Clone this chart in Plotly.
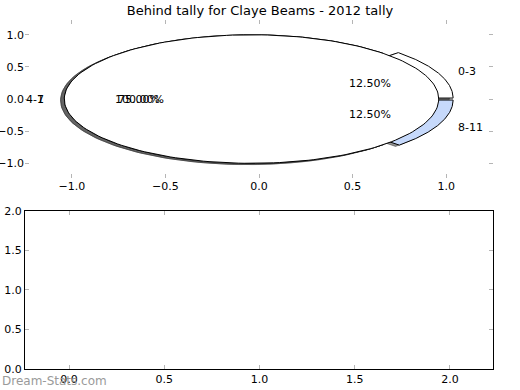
import numpy as np
import plotly.graph_objects as go

# data
title = "Behind tally for Claye Beams - 2012 tally"
labels1 = ["0-3", "4-7", "8-11"]
values1 = [1, 6, 1]
colors1 = ["#ffffff", "#ffffff", "#c6d9fb"]
labels2 = ["1"]
values2 = [1]
colors2 = ["#ffffff"]
explode = 0.04
tick_vals_top = [-1.0, -0.5, 0.0, 0.5, 1.0]
tick_vals_bot_x = [0.0, 0.5, 1.0, 1.5, 2.0]
tick_vals_bot_y = [0.0, 0.5, 1.0, 1.5, 2.0]

def fmt(v):
    s = f"{v:.1f}"
    return s.replace("-", "\u2212")

fig = go.Figure()

def wedge_xy(t1, t2, cx, cy, full):
    th = np.radians(np.linspace(t1, t2, 200))
    x = cx + np.cos(th)
    y = cy + np.sin(th)
    if not full:
        x = np.concatenate([[cx], x, [cx]])
        y = np.concatenate([[cy], y, [cy]])
    return x, y

def pie_geoms(values):
    total = float(sum(values))
    out = []
    t = 0.0
    for v in values:
        span = 360.0 * v / total
        t1, t2 = t, t + span
        mid = np.radians((t1 + t2) / 2)
        cx, cy = explode * np.cos(mid), explode * np.sin(mid)
        out.append((t1, t2, cx, cy, mid, span >= 359.999, 100.0 * v / total))
        t = t2
    return out

annots = []
shadow_traces = []
wedge_traces = []
for values, labels, colors in [(values1, labels1, colors1), (values2, labels2, colors2)]:
    for (t1, t2, cx, cy, mid, full, pct), lab, col in zip(pie_geoms(values), labels, colors):
        x, y = wedge_xy(t1, t2, cx, cy, full)
        shadow_traces.append(go.Scatter(x=x - 0.02, y=y - 0.02, mode="lines", fill="toself",
                                        fillcolor="rgba(60,60,60,0.55)",
                                        line=dict(color="rgba(60,60,60,0.55)", width=1),
                                        hoverinfo="skip", showlegend=False, xaxis="x", yaxis="y"))
        wedge_traces.append(go.Scatter(x=x, y=y, mode="lines", fill="toself", fillcolor=col,
                                       line=dict(color="black", width=1),
                                       hoverinfo="skip", showlegend=False, xaxis="x", yaxis="y"))
        lx, ly = cx + 1.1 * np.cos(mid), cy + 1.1 * np.sin(mid)
        annots.append(dict(x=lx, y=ly, xref="x", yref="y", text=lab, showarrow=False,
                           xanchor="left" if lx > 0 else "right", yanchor="middle",
                           font=dict(size=11, color="black", family="DejaVu Sans")))
        px, py = cx + 0.6 * np.cos(mid), cy + 0.6 * np.sin(mid)
        annots.append(dict(x=px, y=py, xref="x", yref="y", text=f"{pct:.2f}%", showarrow=False,
                           xanchor="center", yanchor="middle",
                           font=dict(size=11, color="black", family="DejaVu Sans")))

for tr in shadow_traces[:3]:
    fig.add_trace(tr)
for tr in wedge_traces[:3]:
    fig.add_trace(tr)
for tr in shadow_traces[3:]:
    fig.add_trace(tr)
for tr in wedge_traces[3:]:
    fig.add_trace(tr)

# empty bottom axes
fig.add_trace(go.Scatter(x=[], y=[], xaxis="x2", yaxis="y2", showlegend=False))

annots.append(dict(x=0, y=0, xref="paper", yref="paper", xshift=-25, yshift=-12,
                   text="Dream-Stats.com", showarrow=False, xanchor="left", yanchor="middle",
                   font=dict(size=12, color="#9a9a9a", family="DejaVu Sans")))

tickfont = dict(size=11, color="black", family="DejaVu Sans")
common_tick = dict(ticks="inside", ticklen=4, tickcolor="#b5b5b5", tickwidth=1,
                   showgrid=False, zeroline=False, tickfont=tickfont, automargin=False)

fig.update_layout(
    width=520, height=390,
    margin=dict(l=25, r=27, t=20, b=21, autoexpand=False),
    paper_bgcolor="white", plot_bgcolor="white",
    title=dict(text=title, x=0.5, xanchor="center", y=1 - 10 / 390, yanchor="middle",
               font=dict(size=13, color="black", family="DejaVu Sans")),
    xaxis=dict(range=[-1.25, 1.25], domain=[0, 1], anchor="y", tickvals=tick_vals_top,
               ticktext=[fmt(v) for v in tick_vals_top], showline=False, mirror="ticks",
               **common_tick),
    yaxis=dict(range=[-1.23, 1.23], domain=[0.547, 1], anchor="x", tickvals=tick_vals_top,
               ticktext=[fmt(v) for v in tick_vals_top], showline=False, mirror="ticks",
               **common_tick),
    xaxis2=dict(range=[-0.231, 2.226], domain=[0, 1], anchor="y2", tickvals=tick_vals_bot_x,
                ticktext=[fmt(v) for v in tick_vals_bot_x], showline=True, linecolor="black",
                linewidth=1, mirror="ticks", **common_tick),
    yaxis2=dict(range=[0, 2], domain=[0, 0.453], anchor="x2", tickvals=tick_vals_bot_y,
                ticktext=[fmt(v) for v in tick_vals_bot_y], showline=True, linecolor="black",
                linewidth=1, mirror="ticks", **common_tick),
    annotations=annots,
)

fig.write_html("out.html", config={"displayModeBar": False},
               post_script="document.body.style.margin='0';document.body.style.overflow='hidden';")
